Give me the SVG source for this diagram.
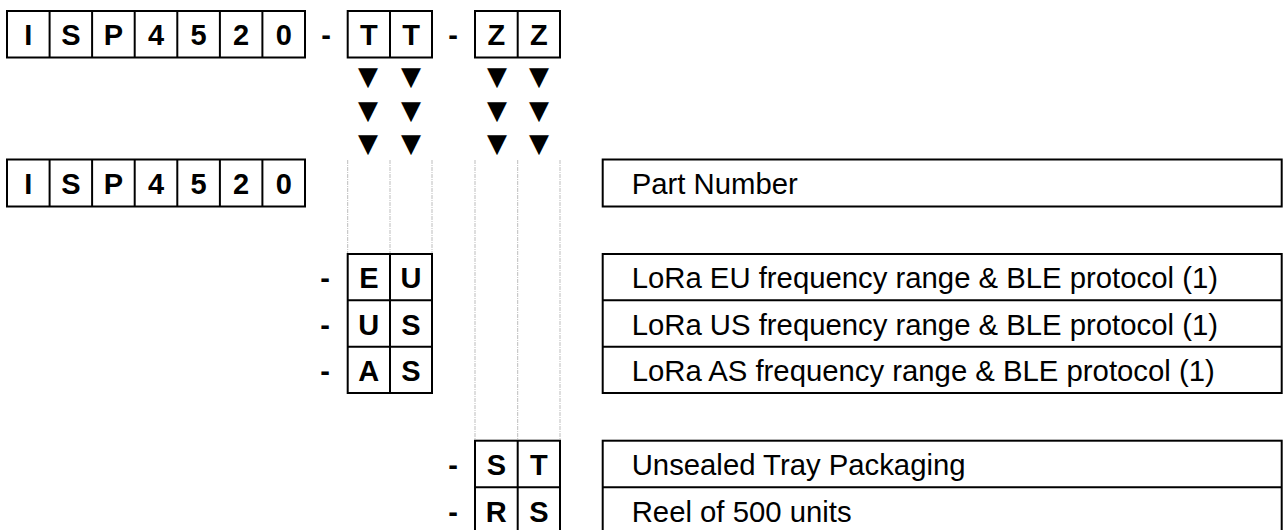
<svg xmlns="http://www.w3.org/2000/svg" width="1283" height="530" viewBox="0 0 1283 530">
<style>
.box{fill:#fff;stroke:#000;stroke-width:2}
.ln{stroke:#000;stroke-width:2}
.ch{font-family:"Liberation Sans",Arial,sans-serif;font-weight:bold;font-size:29px;text-anchor:middle;fill:#000}
.ds{font-family:"Liberation Sans",Arial,sans-serif;font-size:29.3px;fill:#000}
.tri{font-family:"DejaVu Sans",sans-serif;font-size:26px;text-anchor:middle;fill:#000}
.dot{stroke:#bdbdbd;stroke-width:1;stroke-dasharray:4 1 1 1;fill:none}
</style>
<rect width="1283" height="530" fill="#fff"/>

<g id="connectors">
  <line class="dot" x1="347.7" y1="160" x2="347.7" y2="254"/>
  <line class="dot" x1="390" y1="160" x2="390" y2="254"/>
  <line class="dot" x1="432" y1="160" x2="432" y2="254"/>
  <line class="dot" x1="475" y1="160" x2="475" y2="441"/>
  <line class="dot" x1="517.7" y1="160" x2="517.7" y2="441"/>
  <line class="dot" x1="560" y1="160" x2="560" y2="441"/>
  <g id="arrows">
    <text class="tri" x="368" y="85">▼</text>
    <text class="tri" x="411" y="85">▼</text>
    <text class="tri" x="497" y="85">▼</text>
    <text class="tri" x="539" y="85">▼</text>
    <text class="tri" x="368" y="118.5">▼</text>
    <text class="tri" x="411" y="118.5">▼</text>
    <text class="tri" x="497" y="118.5">▼</text>
    <text class="tri" x="539" y="118.5">▼</text>
    <text class="tri" x="368" y="152">▼</text>
    <text class="tri" x="411" y="152">▼</text>
    <text class="tri" x="497" y="152">▼</text>
    <text class="tri" x="539" y="152">▼</text>
  </g>
</g>

<g id="code-top">
  <rect class="box" x="7" y="11" width="298" height="46.5"/>
  <line class="ln" x1="49.6" y1="11" x2="49.6" y2="57.5"/>
  <line class="ln" x1="92.1" y1="11" x2="92.1" y2="57.5"/>
  <line class="ln" x1="134.7" y1="11" x2="134.7" y2="57.5"/>
  <line class="ln" x1="177.3" y1="11" x2="177.3" y2="57.5"/>
  <line class="ln" x1="219.9" y1="11" x2="219.9" y2="57.5"/>
  <line class="ln" x1="262.4" y1="11" x2="262.4" y2="57.5"/>
  <text class="ch" x="28.3" y="45">I</text>
  <text class="ch" x="70.9" y="45">S</text>
  <text class="ch" x="113.4" y="45">P</text>
  <text class="ch" x="156" y="45">4</text>
  <text class="ch" x="198.6" y="45">5</text>
  <text class="ch" x="241.1" y="45">2</text>
  <text class="ch" x="283.7" y="45">0</text>
  <text class="ch" x="326" y="45">-</text>
  <rect class="box" x="347.7" y="11" width="84.3" height="46.5"/>
  <line class="ln" x1="390" y1="11" x2="390" y2="57.5"/>
  <text class="ch" x="368.8" y="45">T</text>
  <text class="ch" x="411" y="45">T</text>
  <text class="ch" x="453" y="45">-</text>
  <rect class="box" x="475" y="11" width="85" height="46.5"/>
  <line class="ln" x1="517.7" y1="11" x2="517.7" y2="57.5"/>
  <text class="ch" x="496.3" y="45">Z</text>
  <text class="ch" x="538.8" y="45">Z</text>
</g>

<g id="part-number">
  <rect class="box" x="7" y="159.5" width="298" height="47"/>
  <line class="ln" x1="49.6" y1="159.5" x2="49.6" y2="206.5"/>
  <line class="ln" x1="92.1" y1="159.5" x2="92.1" y2="206.5"/>
  <line class="ln" x1="134.7" y1="159.5" x2="134.7" y2="206.5"/>
  <line class="ln" x1="177.3" y1="159.5" x2="177.3" y2="206.5"/>
  <line class="ln" x1="219.9" y1="159.5" x2="219.9" y2="206.5"/>
  <line class="ln" x1="262.4" y1="159.5" x2="262.4" y2="206.5"/>
  <text class="ch" x="28.3" y="193.5">I</text>
  <text class="ch" x="70.9" y="193.5">S</text>
  <text class="ch" x="113.4" y="193.5">P</text>
  <text class="ch" x="156" y="193.5">4</text>
  <text class="ch" x="198.6" y="193.5">5</text>
  <text class="ch" x="241.1" y="193.5">2</text>
  <text class="ch" x="283.7" y="193.5">0</text>
</g>
<g id="part-number-desc">
  <rect class="box" x="602.7" y="159.5" width="679" height="47"/>
  <text class="ds" x="631.7" y="194">Part Number</text>
</g>

<g id="frequency-codes">
  <rect class="box" x="347.7" y="254" width="84.3" height="139"/>
  <line class="ln" x1="390" y1="254" x2="390" y2="393"/>
  <line class="ln" x1="347.7" y1="300.3" x2="432" y2="300.3"/>
  <line class="ln" x1="347.7" y1="346.7" x2="432" y2="346.7"/>
  <text class="ch" x="325" y="288">-</text>
  <text class="ch" x="368.8" y="288">E</text>
  <text class="ch" x="411" y="288">U</text>
  <text class="ch" x="325" y="334.5">-</text>
  <text class="ch" x="368.8" y="334.5">U</text>
  <text class="ch" x="411" y="334.5">S</text>
  <text class="ch" x="325" y="381">-</text>
  <text class="ch" x="368.8" y="381">A</text>
  <text class="ch" x="411" y="381">S</text>
</g>
<g id="frequency-desc">
  <rect class="box" x="602.7" y="254" width="679" height="139"/>
  <line class="ln" x1="602.7" y1="300.3" x2="1281.7" y2="300.3"/>
  <line class="ln" x1="602.7" y1="346.7" x2="1281.7" y2="346.7"/>
  <text class="ds" x="631.7" y="288">LoRa EU frequency range &amp; BLE protocol (1)</text>
  <text class="ds" x="631.7" y="334.5">LoRa US frequency range &amp; BLE protocol (1)</text>
  <text class="ds" x="631.7" y="381">LoRa AS frequency range &amp; BLE protocol (1)</text>
</g>

<g id="packaging-codes">
  <rect class="box" x="475" y="440.7" width="85" height="93.3"/>
  <line class="ln" x1="517.7" y1="440.7" x2="517.7" y2="534"/>
  <line class="ln" x1="475" y1="487.3" x2="560" y2="487.3"/>
  <text class="ch" x="453" y="475">-</text>
  <text class="ch" x="496.3" y="475">S</text>
  <text class="ch" x="538.8" y="475">T</text>
  <text class="ch" x="453" y="521.5">-</text>
  <text class="ch" x="496.3" y="521.5">R</text>
  <text class="ch" x="538.8" y="521.5">S</text>
</g>
<g id="packaging-desc">
  <rect class="box" x="602.7" y="440.7" width="679" height="93.3"/>
  <line class="ln" x1="602.7" y1="487.3" x2="1281.7" y2="487.3"/>
  <text class="ds" x="631.7" y="475">Unsealed Tray Packaging</text>
  <text class="ds" x="631.7" y="521.5">Reel of 500 units</text>
</g>
</svg>
